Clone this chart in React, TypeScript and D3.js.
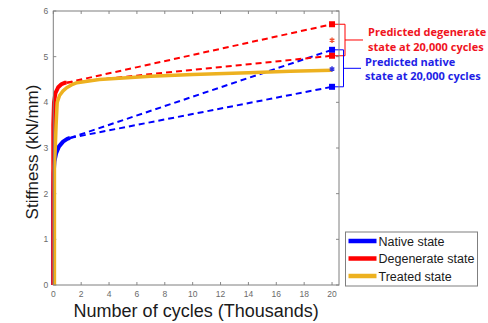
import React, { useRef, useEffect } from "react";
import * as d3 from "d3";

// cycles in thousands, stiffness in kN/mm
const nativeX = [0, 0, 0.03, 0.08, 0.2, 0.4, 0.7, 1.0, 1.2];
const nativeY = [0, 2.0, 2.45, 2.7, 2.88, 3.03, 3.14, 3.2, 3.22];
const degenX = [0, 0, 0.05, 0.15, 0.35, 0.6, 0.85, 0.95];
const degenY = [0, 3.5, 4.0, 4.2, 4.33, 4.4, 4.43, 4.43];
const treatedX = [0.08, 0.08, 0.14, 0.2, 0.28, 0.45, 0.7, 0.96, 1.3, 1.7, 3.3, 7, 10, 14, 17, 20];
const treatedY = [0, 2.6, 3.0, 3.5, 4.0, 4.15, 4.25, 4.32, 4.38, 4.43, 4.5, 4.57, 4.61, 4.65, 4.68, 4.7];

const predictX = 20;
const nativePredicted = [5.15, 4.34];
const degenPredicted = [5.71, 5.02];
const nativeMean = 4.73;
const degenMean = 5.36;

const xTicks = [0, 2, 4, 6, 8, 10, 12, 14, 16, 18, 20];
const yTicks = [0, 1, 2, 3, 4, 5, 6];
const legendLabels = ["Native state", "Degenerate state", "Treated state"];
const colors = ["#0000ff", "#ff0000", "#edb120"];

const W = 488;
const H = 323;

const App = () => {
  const ref = useRef<SVGSVGElement>(null);

  useEffect(() => {
    const svg = d3.select(ref.current);
    svg.selectAll("*").remove();

    const left = 53.3, right = 339, top = 11, bottom = 285;
    const x = d3.scaleLinear().domain([0, 20.5]).range([left, right]);
    const y = d3.scaleLinear().domain([0, 6]).range([bottom, top]);

    const g = svg.append("g");
    g.append("rect")
      .attr("x", left).attr("y", top)
      .attr("width", right - left).attr("height", bottom - top)
      .attr("fill", "#fff");

    // ticks inside box
    const tickColor = "#8a8a8a";
    xTicks.forEach((t) => {
      g.append("line").attr("x1", x(t)).attr("x2", x(t)).attr("y1", bottom).attr("y2", bottom - 3).attr("stroke", tickColor);
      g.append("line").attr("x1", x(t)).attr("x2", x(t)).attr("y1", top).attr("y2", top + 3).attr("stroke", tickColor);
      g.append("text").attr("x", x(t)).attr("y", bottom + 12)
        .attr("text-anchor", "middle").attr("font-size", 8.5)
        .attr("font-family", "Liberation Sans, Arial").attr("fill", "#6a6a6a").text(t);
    });
    yTicks.forEach((t) => {
      g.append("line").attr("x1", left).attr("x2", left + 3).attr("y1", y(t)).attr("y2", y(t)).attr("stroke", tickColor);
      g.append("line").attr("x1", right).attr("x2", right - 3).attr("y1", y(t)).attr("y2", y(t)).attr("stroke", tickColor);
      g.append("text").attr("x", left - 5).attr("y", y(t) + 3)
        .attr("text-anchor", "end").attr("font-size", 8.5)
        .attr("font-family", "Liberation Sans, Arial").attr("fill", "#6a6a6a").text(t);
    });

    const line = d3.line<[number, number]>().x((d) => x(d[0])).y((d) => y(d[1]));
    const zip = (xs: number[], ys: number[]) => xs.map((v, i) => [v, ys[i]] as [number, number]);

    // dashed projections
    const dashes: [number, number, number[], string][] = [
      [1.2, 3.22, nativePredicted, colors[0]],
      [0.95, 4.43, degenPredicted, colors[1]],
    ];
    dashes.forEach(([x0, y0, ends, c]) => {
      ends.forEach((e) => {
        g.append("path")
          .attr("d", line([[x0, y0], [predictX, e]]))
          .attr("stroke", c).attr("stroke-width", 2)
          .attr("stroke-dasharray", "6,4").attr("fill", "none");
      });
    });

    // solid curves
    const series = [zip(nativeX, nativeY), zip(degenX, degenY), zip(treatedX, treatedY)];
    series.forEach((s, i) => {
      g.append("path").attr("d", line(s))
        .attr("stroke", colors[i]).attr("stroke-width", i === 2 ? 3.5 : 4)
        .attr("stroke-linejoin", "round").attr("fill", "none");
    });

    // brackets
    const bracket = (vals: number[], bx: number, c: string, tx: number) => {
      const ys = vals.map((v) => y(v));
      const mid = (ys[0] + ys[1]) / 2;
      g.append("path")
        .attr("d", `M${x(predictX)},${ys[0]}H${bx}V${ys[1]}H${x(predictX)}M${bx},${mid}H${tx}`)
        .attr("stroke", c).attr("stroke-width", 1).attr("fill", "none");
    };
    bracket(degenPredicted, 345, colors[1], 363);
    bracket(nativePredicted, 343.5, colors[0], 361);

    // markers
    const sq = 6;
    [[nativePredicted, colors[0]], [degenPredicted, colors[1]]].forEach(([vals, c]) => {
      (vals as number[]).forEach((v) => {
        g.append("rect").attr("x", x(predictX) - sq / 2).attr("y", y(v) - sq / 2)
          .attr("width", sq).attr("height", sq).attr("fill", c as string);
      });
    });
    const star = d3.symbol().type(d3.symbolAsterisk).size(20);
    [[nativeMean, "#3030e0"], [degenMean, "#f05030"]].forEach(([v, c]) => {
      g.append("path").attr("d", star())
        .attr("transform", `translate(${x(predictX)},${y(v as number)})`)
        .attr("stroke", c as string).attr("stroke-width", 1.4).attr("fill", "none");
    });

    // box
    g.append("rect")
      .attr("x", left).attr("y", top)
      .attr("width", right - left).attr("height", bottom - top)
      .attr("fill", "none").attr("stroke", "#7f7f7f").attr("stroke-width", 1);

    // axis labels
    g.append("text").attr("x", (left + right) / 2).attr("y", 317)
      .attr("text-anchor", "middle").attr("font-size", 18)
      .attr("font-family", "Liberation Sans, Arial").attr("fill", "#1a1a1a")
      .text("Number of cycles (Thousands)");
    g.append("text")
      .attr("transform", `translate(38,${(top + bottom) / 2 + 4}) rotate(-90)`)
      .attr("text-anchor", "middle").attr("font-size", 17)
      .attr("font-family", "Liberation Sans, Arial").attr("fill", "#1a1a1a")
      .text("Stiffness (kN/mm)");

    // annotations
    const ann = (lines: string[], tx: number, ty: number, c: string) => {
      lines.forEach((l, i) => {
        g.append("text").attr("x", tx).attr("y", ty + i * 14.5)
          .attr("font-size", 11).attr("font-weight", "bold")
          .attr("font-family", "Open Sans").attr("fill", c).text(l);
      });
    };
    ann(["Predicted degenerate", "state at 20,000 cycles"], 368, 36, "#f0141e");
    ann(["Predicted native", "state at 20,000 cycles"], 365, 65.5, "#1e1ee6");

    // legend
    const lx = 345.5, ly = 232;
    g.append("rect").attr("x", lx).attr("y", ly).attr("width", 132).attr("height", 54)
      .attr("fill", "#fff").attr("stroke", "#7f7f7f").attr("stroke-width", 1);
    legendLabels.forEach((l, i) => {
      const cy = ly + 9 + i * 17.5;
      g.append("line").attr("x1", lx + 3).attr("x2", lx + 31).attr("y1", cy).attr("y2", cy)
        .attr("stroke", colors[i]).attr("stroke-width", 4.5);
      g.append("text").attr("x", lx + 33).attr("y", cy + 4.5)
        .attr("font-size", 12.5).attr("font-family", "Liberation Sans, Arial")
        .attr("fill", "#1a1a1a").text(l);
    });
  }, []);

  return (
    <svg ref={ref} width={W} height={H}
      style={{ position: "absolute", left: 0, top: 0, background: "#fff" }} />
  );
};

export default App;
